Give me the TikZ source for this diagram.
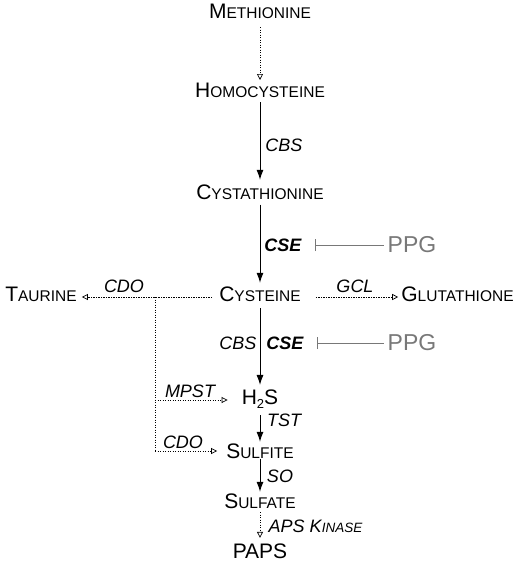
\documentclass[tikz,border=0pt]{standalone}
\usepackage{fontspec}
\setmainfont{Liberation Sans}
\usetikzlibrary{arrows.meta}
\newcommand\SmC[2]{{\fontsize{21}{21}\selectfont #1}{\fontsize{15.5}{15.5}\selectfont #2}}
\newcommand\LabSC[2]{{\fontsize{18}{18}\selectfont\itshape #1}{\fontsize{13.5}{13.5}\selectfont\itshape #2}}
\definecolor{inhgray}{RGB}{120,120,120}
\tikzset{
 mol/.style={inner sep=0pt, font=\fontsize{21}{21}\selectfont},
 enz/.style={inner sep=0pt, font=\fontsize{18}{18}\selectfont\itshape},
 enzb/.style={inner sep=0pt, font=\fontsize{18}{18}\selectfont\bfseries\itshape},
 inhib/.style={inner sep=0pt, text=inhgray, font=\fontsize{23}{23}\selectfont},
 mainarrow/.style={line width=1pt, -{Latex[length=10pt,width=7pt]}},
 sidearrow/.style={line width=0.8pt, dash pattern=on 1.2pt off 1.3pt, -{Triangle[open,length=6pt,width=6pt,line width=0.7pt]}},
 sideline/.style={line width=0.8pt, dash pattern=on 1.2pt off 1.3pt},
 inh/.style={line width=0.9pt, draw=inhgray, -{Bar[width=12pt]}},
}
\begin{document}
\begin{tikzpicture}[x=1pt,y=-1pt]
\useasboundingbox (0,0) rectangle (520,566);
% molecules
\node[mol] (met) at (260,11) {\SmC{M}{ETHIONINE}};
\node[mol] (hom) at (260,90) {\SmC{H}{OMOCYSTEINE}};
\node[mol] (cyst) at (260,192) {\SmC{C}{YSTATHIONINE}};
\node[mol] (cys) at (260,294.5) {\SmC{C}{YSTEINE}};
\node[mol] (taur) at (41,294.5) {\SmC{T}{AURINE}};
\node[mol] (glut) at (457.5,294.5) {\SmC{G}{LUTATHIONE}};
\node[mol, text depth=0pt] (h2s) at (260,397.5) {H\raisebox{-4pt}{\fontsize{13}{13}\selectfont 2}S};
\node[mol] (sulfi) at (260,451) {\SmC{S}{ULFITE}};
\node[mol] (sulfa) at (260,501) {\SmC{S}{ULFATE}};
\node[mol] (paps) at (260,551.5) {PAPS};
% enzyme labels
\node[enz] (cbs1) at (284,145) {CBS};
\node[enzb] (cse1) at (283,245) {CSE};
\node[inhib] (ppg1) at (412,245) {PPG};
\node[enz] (cdo1) at (124,286) {CDO};
\node[enz] (gcl) at (355,286) {GCL};
\node[enz] (cbs2) at (238,343) {CBS};
\node[enzb] (cse2) at (285,343) {CSE};
\node[inhib] (ppg2) at (412,343) {PPG};
\node[enz] (mpst) at (190,391) {MPST};
\node[enz] (tst) at (284,420.5) {TST};
\node[enz] (cdo2) at (183,442) {CDO};
\node[enz] (so) at (280,476.5) {SO};
\node[inner sep=0pt] (aps) at (315.5,526) {\LabSC{APS K}{INASE}};
% main chain
\draw[sidearrow, shorten <=8.5pt, shorten >=2.5pt] (met) -- (hom);
\draw[mainarrow, shorten <=4.5pt, shorten >=4.5pt] (hom) -- (cyst);
\draw[mainarrow, shorten <=5pt, shorten >=4pt] (cyst) -- (cys);
\draw[mainarrow, shorten <=6pt, shorten >=5pt] (cys) -- (h2s);
\draw[mainarrow, shorten <=10pt, shorten >=1.5pt] (h2s) -- (sulfi);
\draw[mainarrow, shorten <=0pt, shorten >=1.5pt] (sulfi) -- (sulfa);
\draw[sidearrow, shorten <=3.5pt, shorten >=6pt] (sulfa) -- (paps);
% side branches
\draw[sidearrow, shorten <=7pt, shorten >=5pt] ([yshift=-2.5pt]cys.west) -- ([yshift=-2.5pt]taur.east);
\draw[sidearrow, shorten <=15pt, shorten >=3pt] ([yshift=-2.5pt]cys.east) -- ([yshift=-2.5pt]glut.west);
\coordinate (br) at (155,297);
\draw[sideline] (br) -- (br |- sulfi.west);
\draw[sidearrow, shorten >=14pt] ([yshift=-2.5pt]br |- h2s.west) -- ([yshift=-2.5pt]h2s.west);
\draw[sidearrow, shorten >=9pt] (br |- sulfi.west) -- (sulfi.west);
% inhibitors
\draw[inh, shorten <=4pt, shorten >=13pt] (ppg1.west) -- (cse1.east);
\draw[inh, shorten <=4pt, shorten >=13pt] (ppg2.west) -- (cse2.east);
\end{tikzpicture}
\end{document}
